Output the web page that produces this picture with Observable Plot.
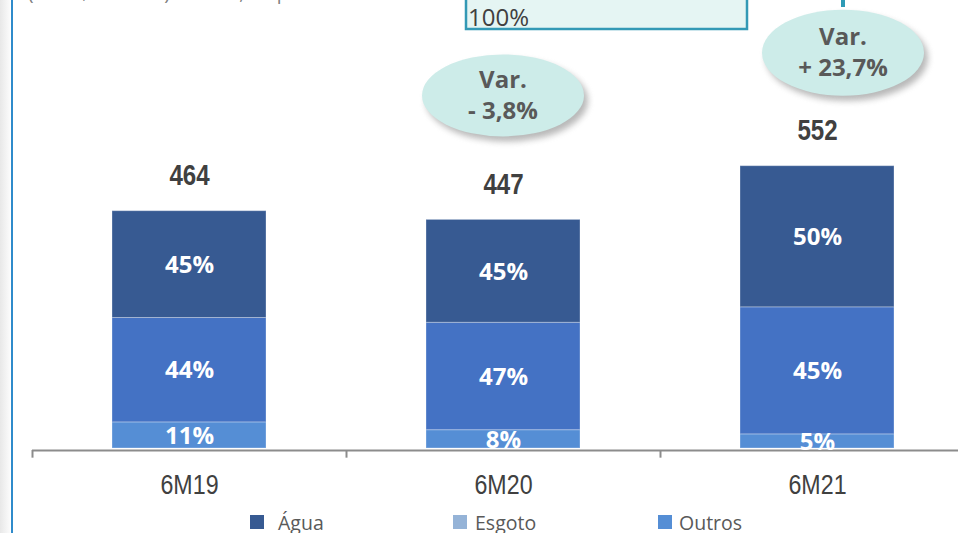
<!DOCTYPE html>
<html><head><meta charset="utf-8">
<script src="https://cdn.jsdelivr.net/npm/d3@7"></script>
<script src="https://cdn.jsdelivr.net/npm/@observablehq/plot@0.6"></script>
<style>
html,body{margin:0;padding:0;background:#fff;overflow:hidden;width:958px;height:533px;}
#wrap{position:relative;width:958px;height:533px;overflow:hidden;}
#wrap svg{position:absolute;left:0;top:0;}
#edge{position:absolute;left:0;top:0;width:10px;height:533px;background:linear-gradient(to right,#e8e8e8,#fbfbfb);}
#edgeLine{position:absolute;left:11px;top:0;width:2px;height:533px;background:#2F8BCB;}
</style></head><body><div id="wrap"></div>
<script>
// ---- data ----
const categories = ["6M19", "6M20", "6M21"];
const totals = [464, 447, 552];
const outrosPct = [11, 8, 5];
const esgotoPct = [44, 47, 45];
const aguaPct = [45, 45, 50];
const stackSeries = ["Outros", "Esgoto", "Água"];
const segmentColors = ["#558ED5", "#4472C4", "#375A92"];
const legendLabels = ["Água", "Esgoto", "Outros"];
const legendColors = ["#375A92", "#95B3D7", "#558ED5"];
const variationCategories = ["6M20", "6M21"];
const variationTitle = ["Var.", "Var."];
const variationValues = ["- 3,8%", "+ 23,7%"];
const boxText = "100%";
const noteText = "(em R$ milhões) e em %, respectivamente";

const pctBySeries = {"Outros": outrosPct, "Esgoto": esgotoPct, "Água": aguaPct};
const rows = [];
categories.forEach((c, i) => stackSeries.forEach(s => rows.push({
  cat: c, series: s, pct: pctBySeries[s][i], value: totals[i] * pctBySeries[s][i] / 100
})));
const totalRows = categories.map((c, i) => ({cat: c, total: totals[i]}));

const narrow = "'Liberation Sans', Arial, sans-serif";
const sans = "'Open Sans', 'Noto Sans', sans-serif";

const plot = Plot.plot({
  width: 958, height: 533,
  marginTop: 0, marginRight: 0, marginBottom: 0, marginLeft: 32,
  x: {domain: categories, range: [32, 974], padding: 0, axis: null},
  y: {domain: [0, 876], range: [448, 0], axis: null},
  color: {domain: stackSeries, range: segmentColors},
  style: {background: "transparent", overflow: "visible"},
  marks: [
    Plot.barY(rows, {x: "cat", y: "value", fill: "series", insetLeft: 80, insetRight: 80,
      stroke: "#ffffff", strokeOpacity: 0.3, strokeWidth: 1}),
    Plot.ruleY([0], {stroke: "#8C8C8C", strokeWidth: 2, dy: 2}),
    Plot.ruleX(categories, {x: d => d, y1: 0, y2: -15, dx: -157, dy: 2, stroke: "#8C8C8C", strokeWidth: 2}),
    Plot.text(rows, Plot.stackY({x: "cat", y: "value", z: "series", text: d => d.pct + "%",
      fill: "white", fontSize: 24, fontWeight: "bold", fontFamily: sans, dy: 0.5})),
    Plot.text(categories, {x: d => d, y: () => 0, dy: 36.5, text: d => d, fontSize: 28,
      fontFamily: narrow, fill: "#404040"}),
    Plot.text(totalRows, {x: "cat", y: "total", text: d => String(d.total), dy: -35, fontSize: 29,
      fontWeight: "bold", fontFamily: narrow, fill: "#404040"})
  ]
});

const wrap = document.getElementById("wrap");
wrap.appendChild(plot);
const edge = document.createElement("div"); edge.id = "edge"; wrap.appendChild(edge);
const edgeLine = document.createElement("div"); edgeLine.id = "edgeLine"; wrap.appendChild(edgeLine);

// condense the Arial-like labels to mimic Arial Narrow
d3.select(plot).selectAll("g[font-family*='Liberation Sans'] text").each(function() {
  const w = this.getComputedTextLength();
  if (w > 0) { this.setAttribute("textLength", (w * 0.83).toFixed(1)); this.setAttribute("lengthAdjust", "spacingAndGlyphs"); }
});

// ---- annotations via the plot's scales ----
const svg = d3.select(plot);
const xs = plot.scale("x"), ys = plot.scale("y");
const bw = xs.bandwidth;
const defs = svg.append("defs");
defs.append("filter").attr("id", "blur").attr("x", "-20%").attr("y", "-20%").attr("width", "140%").attr("height", "140%")
  .append("feGaussianBlur").attr("stdDeviation", 3);

const ann = svg.append("g").attr("text-anchor", "start");
// top note (cut off)
ann.append("text").attr("x", 28).attr("y", 0).attr("font-family", sans).attr("font-size", 19)
  .attr("fill", "#808080").text(noteText);
// top box
ann.append("rect").attr("x", 466).attr("y", -4).attr("width", 281).attr("height", 33)
  .attr("fill", "#E5F5F3").attr("stroke", "#3399B5").attr("stroke-width", 2.5);
ann.append("text").attr("x", 468).attr("y", 26).attr("font-family", sans).attr("font-size", 24)
  .attr("fill", "#404040").text(boxText);
ann.append("line").attr("x1", 843).attr("x2", 843).attr("y1", 0).attr("y2", 7)
  .attr("stroke", "#2E9AB5").attr("stroke-width", 4);

// variation bubbles
const bubbleLayout = [{dx: 0, dy: -124, rx: 81, ry: 41}, {dx: 26, dy: -113, rx: 81, ry: 43}];
variationCategories.forEach((c, k) => {
  const i = categories.indexOf(c);
  const L = bubbleLayout[k];
  const cx = xs.apply(c) + bw / 2 + L.dx;
  const cy = ys.apply(totals[i]) + L.dy;
  const g = svg.append("g").attr("text-anchor", "middle");
  g.append("ellipse").attr("cx", cx + 4).attr("cy", cy + 5).attr("rx", L.rx).attr("ry", L.ry)
    .attr("fill", "#7f7f7f").attr("opacity", 0.55).attr("filter", "url(#blur)");
  g.append("ellipse").attr("cx", cx).attr("cy", cy).attr("rx", L.rx).attr("ry", L.ry).attr("fill", "#CDECE9");
  g.append("text").attr("x", cx).attr("y", cy - 16).attr("dy", "0.35em")
    .attr("font-family", sans).attr("font-weight", "bold").attr("font-size", 24).attr("fill", "#595959")
    .text(variationTitle[k]);
  g.append("text").attr("x", cx).attr("y", cy + 15).attr("dy", "0.35em")
    .attr("font-family", sans).attr("font-weight", "bold").attr("font-size", 24).attr("fill", "#595959")
    .text(variationValues[k]);
});

// legend
const legendX = [250, 453, 658];
const legendTextGap = [28, 22, 21];
const leg = svg.append("g").attr("text-anchor", "start");
legendLabels.forEach((lab, k) => {
  leg.append("rect").attr("x", legendX[k]).attr("y", 515).attr("width", 14).attr("height", 14).attr("fill", legendColors[k]);
  leg.append("text").attr("x", legendX[k] + legendTextGap[k]).attr("y", 530).attr("font-family", sans)
    .attr("font-size", 19.5).attr("fill", "#595959").text(lab);
});
</script>
</body></html>
